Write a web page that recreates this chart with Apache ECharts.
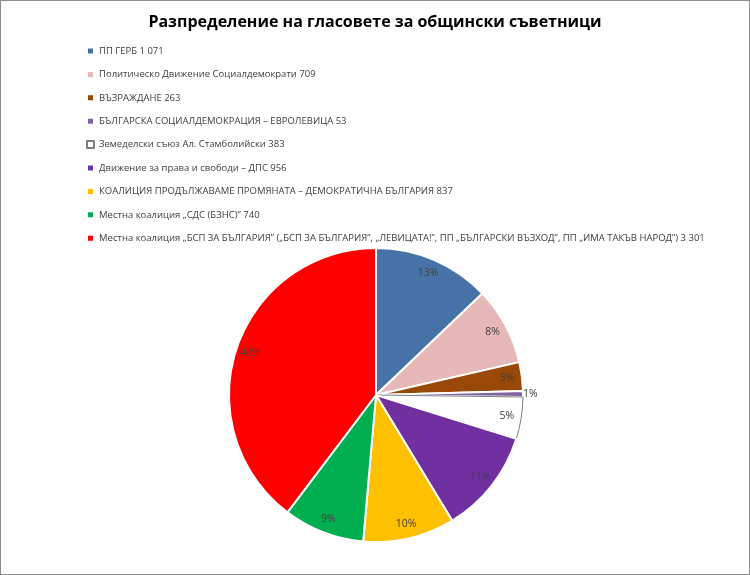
<!DOCTYPE html>
<html>
<head>
<meta charset="utf-8">
<script src="https://cdn.jsdelivr.net/npm/echarts@6/dist/echarts.min.js"></script>
<style>
  html, body { margin: 0; padding: 0; background: #fff; }
  #chart { width: 748px; height: 573px; border: 1px solid #8c8c8c; }
</style>
</head>
<body>
<div id="chart"></div>
<script>
var parties = [
    'ПП ГЕРБ',
    'Политическо Движение Социалдемократи',
    'ВЪЗРАЖДАНЕ',
    'БЪЛГАРСКА СОЦИАЛДЕМОКРАЦИЯ – ЕВРОЛЕВИЦА',
    'Земеделски съюз Ал. Стамболийски',
    'Движение за права и свободи – ДПС',
    'КОАЛИЦИЯ ПРОДЪЛЖАВАМЕ ПРОМЯНАТА – ДЕМОКРАТИЧНА БЪЛГАРИЯ',
    'Местна коалиция „СДС (БЗНС)”',
    'Местна коалиция „БСП ЗА БЪЛГАРИЯ” („БСП ЗА БЪЛГАРИЯ”, „ЛЕВИЦАТА!”, ПП „БЪЛГАРСКИ ВЪЗХОД”, ПП „ИМА ТАКЪВ НАРОД”)'
];
var votes = [1071, 709, 263, 53, 383, 956, 837, 740, 3301];
var colors = ['#4672a8', '#e6b9b8', '#984807', '#8064a2', '#ffffff', '#7030a0', '#ffc000', '#00b050', '#ff0000'];

// число с интервал за хилядите: 1071 -> "1 071"
function fmtNum(n) {
    return String(n).replace(/\B(?=(\d{3})+(?!\d))/g, ' ');
}

var mainData = parties.map(function(name, i) {
    var item = { name: name, value: votes[i], itemStyle: { color: colors[i] } };
    if (colors[i] === '#ffffff') {
        item.itemStyle.borderColor = '#7f7f7f';
        item.itemStyle.borderWidth = 1;
    }
    return item;
});

// прозрачен пръстен само за етикетите (по-близо до ръба)
var labelData = parties.map(function(name, i) {
    var item = { name: name, value: votes[i] };
    if (votes[i] < 100) {
        item.label = { position: 'outside' };
    }
    return item;
});

var chart = echarts.init(document.getElementById('chart'));
chart.setOption({
    animation: false,
    title: {
        text: 'Разпределение на гласовете за общински съветници',
        left: 'center',
        top: 8,
        textStyle: { fontFamily: 'Open Sans', fontSize: 16, fontWeight: 'bold', color: '#000' }
    },
    legend: {
        orient: 'vertical',
        left: 80,
        top: 39,
        itemWidth: 7,
        itemHeight: 7,
        itemGap: 11.4,
        icon: 'rect',
        selectedMode: false,
        data: parties,
        formatter: function(name) {
            return name + ' ' + fmtNum(votes[parties.indexOf(name)]);
        },
        textStyle: { fontFamily: 'Open Sans', fontSize: 9.5, color: '#404040', lineHeight: 12 }
    },
    series: [
        {
            type: 'pie',
            center: [375, 394],
            radius: 147,
            startAngle: 90,
            clockwise: true,
            data: mainData,
            label: { show: false },
            labelLine: { show: false },
            itemStyle: { borderColor: '#fff', borderWidth: 2 },
            emphasis: { disabled: true }
        },
        {
            type: 'pie',
            center: [375, 394],
            radius: [112, 147],
            startAngle: 90,
            clockwise: true,
            silent: true,
            percentPrecision: 0,
            data: labelData,
            itemStyle: { color: 'rgba(0,0,0,0)' },
            label: {
                show: true,
                position: 'inside',
                formatter: '{d}%',
                fontFamily: 'Open Sans',
                fontSize: 10.5,
                color: '#404040',
                distanceToLabelLine: 0
            },
            labelLine: { show: false, length: 0, length2: 0 },
            emphasis: { disabled: true }
        }
    ]
});
</script>
</body>
</html>
